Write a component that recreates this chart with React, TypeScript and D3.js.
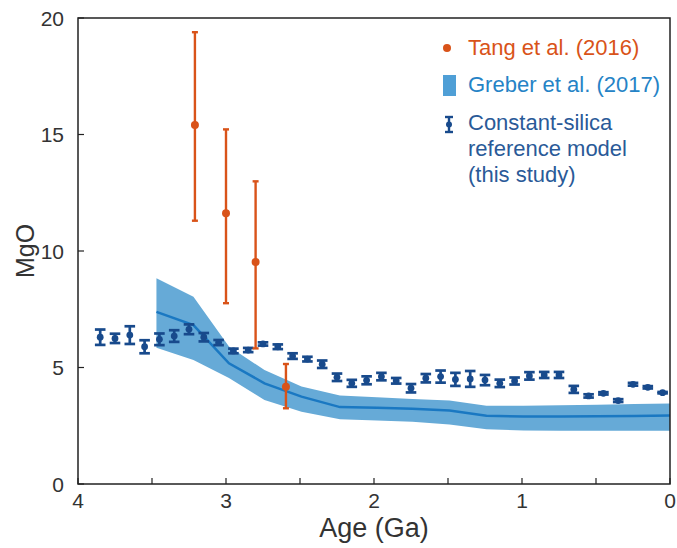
import React from "react";
import * as d3 from "d3";

// Constant-silica reference model (this study)
const csAge = [3.85, 3.75, 3.65, 3.55, 3.45, 3.35, 3.25, 3.15, 3.05, 2.95, 2.85, 2.75, 2.65, 2.55, 2.45, 2.35, 2.25, 2.15, 2.05, 1.95, 1.85, 1.75, 1.65, 1.55, 1.45, 1.35, 1.25, 1.15, 1.05, 0.95, 0.85, 0.75, 0.65, 0.55, 0.45, 0.35, 0.25, 0.15, 0.05];
const csMgO = [6.30, 6.25, 6.39, 5.89, 6.21, 6.35, 6.64, 6.30, 6.07, 5.71, 5.75, 6.01, 5.89, 5.49, 5.36, 5.14, 4.58, 4.32, 4.45, 4.61, 4.43, 4.11, 4.54, 4.61, 4.49, 4.51, 4.46, 4.32, 4.42, 4.64, 4.68, 4.68, 4.06, 3.78, 3.89, 3.58, 4.28, 4.15, 3.92];
const csErr = [0.33, 0.20, 0.38, 0.28, 0.25, 0.25, 0.21, 0.18, 0.11, 0.10, 0.09, 0.07, 0.10, 0.12, 0.10, 0.16, 0.16, 0.15, 0.17, 0.16, 0.12, 0.18, 0.18, 0.26, 0.28, 0.34, 0.22, 0.16, 0.15, 0.16, 0.13, 0.13, 0.15, 0.07, 0.05, 0.06, 0.06, 0.05, 0.03];

// Tang et al. (2016)
const tangAge = [3.21, 3.0, 2.8, 2.595];
const tangMgO = [15.41, 11.62, 9.53, 4.17];
const tangLow = [11.3, 7.76, 5.82, 3.25];
const tangHigh = [19.39, 15.22, 12.99, 5.15];

// Greber et al. (2017)
const grAge = [3.47, 3.22, 2.98, 2.74, 2.49, 2.23, 1.98, 1.74, 1.49, 1.24, 0.99, 0.74, 0.49, 0.24, 0.0];
const grUpper = [8.83, 8.04, 5.9, 4.89, 4.18, 3.8, 3.72, 3.65, 3.58, 3.36, 3.36, 3.38, 3.4, 3.43, 3.46];
const grMid = [7.39, 6.82, 5.18, 4.32, 3.75, 3.3, 3.27, 3.23, 3.15, 2.93, 2.9, 2.9, 2.91, 2.92, 2.94];
const grLower = [5.85, 5.32, 4.55, 3.6, 3.1, 2.78, 2.72, 2.67, 2.55, 2.35, 2.3, 2.29, 2.29, 2.29, 2.29];

const xTicks = [4, 3.5, 3, 2.5, 2, 1.5, 1, 0.5, 0];
const xLabels = [4, 3, 2, 1, 0];
const yTicks = [0, 5, 10, 15, 20];

const W = 677, H = 548;
const L = 78, R = 670, T = 18, B = 484;
const FONT = "'Liberation Sans', Helvetica, Arial, sans-serif";
const ORANGE = "#d95319";
const DARK = "#184a8c";
const BAND = "#66aad7";
const MID = "#1a78c2";

export default function App() {
  const x = d3.scaleLinear().domain([4, 0]).range([L, R]);
  const y = d3.scaleLinear().domain([0, 20]).range([B, T]);
  const idx = grAge.map((_, i) => i);
  const area = d3.area<number>().x((i) => x(grAge[i])).y0((i) => y(grLower[i])).y1((i) => y(grUpper[i]));
  const line = d3.line<number>().x((i) => x(grAge[i])).y((i) => y(grMid[i]));

  return (
    <svg width={W} height={H} style={{ position: "absolute", left: 0, top: 0, background: "#fff" }} fontFamily={FONT}>
      <defs>
        <clipPath id="pa"><rect x={L} y={T} width={R - L} height={B - T} /></clipPath>
      </defs>
      <g clipPath="url(#pa)">
        <path d={area(idx) || ""} fill={BAND} />
        <path d={line(idx) || ""} fill="none" stroke={MID} strokeWidth={2.5} />
      </g>
      {csAge.map((a, i) => {
        const cx = x(a);
        const y1 = y(csMgO[i] - csErr[i]);
        const y2 = y(csMgO[i] + csErr[i]);
        return (
          <g key={"cs" + i} stroke={DARK} strokeWidth={2.7}>
            <line x1={cx} x2={cx} y1={y1} y2={y2} />
            <line x1={cx - 5.3} x2={cx + 5.3} y1={y1} y2={y1} />
            <line x1={cx - 5.3} x2={cx + 5.3} y1={y2} y2={y2} />
            <circle cx={cx} cy={y(csMgO[i])} r={3.4} fill={DARK} stroke="none" />
          </g>
        );
      })}
      {tangAge.map((a, i) => {
        const cx = x(a);
        const y1 = y(tangLow[i]);
        const y2 = y(tangHigh[i]);
        return (
          <g key={"t" + i} stroke={ORANGE} strokeWidth={2.4}>
            <line x1={cx} x2={cx} y1={y1} y2={y2} />
            <line x1={cx - 3} x2={cx + 3} y1={y1} y2={y1} />
            <line x1={cx - 3} x2={cx + 3} y1={y2} y2={y2} />
            <circle cx={cx} cy={y(tangMgO[i])} r={4} fill={ORANGE} stroke="none" />
          </g>
        );
      })}
      {/* frame */}
      <rect x={L} y={T} width={R - L} height={B - T} fill="none" stroke="#222" strokeWidth={1.5} />
      {xTicks.map((t) => (
        <line key={"xt" + t} x1={x(t)} x2={x(t)} y1={B} y2={B - 6} stroke="#222" strokeWidth={1.2} />
      ))}
      {yTicks.map((t) => (
        <line key={"yt" + t} x1={L} x2={L + 6} y1={y(t)} y2={y(t)} stroke="#222" strokeWidth={1.2} />
      ))}
      {xLabels.map((t) => (
        <text key={"xl" + t} x={x(t)} y={B + 24} textAnchor="middle" fontSize={21} fill="#333">{t}</text>
      ))}
      {yTicks.map((t) => (
        <text key={"yl" + t} x={L - 14} y={y(t) + 7.5} textAnchor="end" fontSize={21} fill="#333">{t}</text>
      ))}
      <text x={(L + R) / 2} y={537} textAnchor="middle" fontSize={27} fill="#333">Age (Ga)</text>
      <text transform={`translate(34,${(T + B) / 2}) rotate(-90)`} textAnchor="middle" fontSize={25} fill="#333">MgO</text>
      {/* legend */}
      <circle cx={447} cy={48} r={4} fill={ORANGE} />
      <text x={468} y={55} fontSize={22} fill={ORANGE}>Tang et al. (2016)</text>
      <rect x={443} y={75} width={13} height={21} fill="#4f9fd6" />
      <text x={468} y={92} fontSize={22} fill="#2583c6">Greber et al. (2017)</text>
      <g stroke={DARK} strokeWidth={2.4}>
        <line x1={449} x2={449} y1={117} y2={132} />
        <line x1={445} x2={453} y1={117} y2={117} />
        <line x1={445} x2={453} y1={132} y2={132} />
      </g>
      <circle cx={449} cy={124.5} r={3} fill={DARK} />
      <text x={468} y={130} fontSize={22} fill="#2a5a98">Constant-silica</text>
      <text x={468} y={156} fontSize={22} fill="#2a5a98">reference model</text>
      <text x={468} y={182} fontSize={22} fill="#2a5a98">(this study)</text>
    </svg>
  );
}
